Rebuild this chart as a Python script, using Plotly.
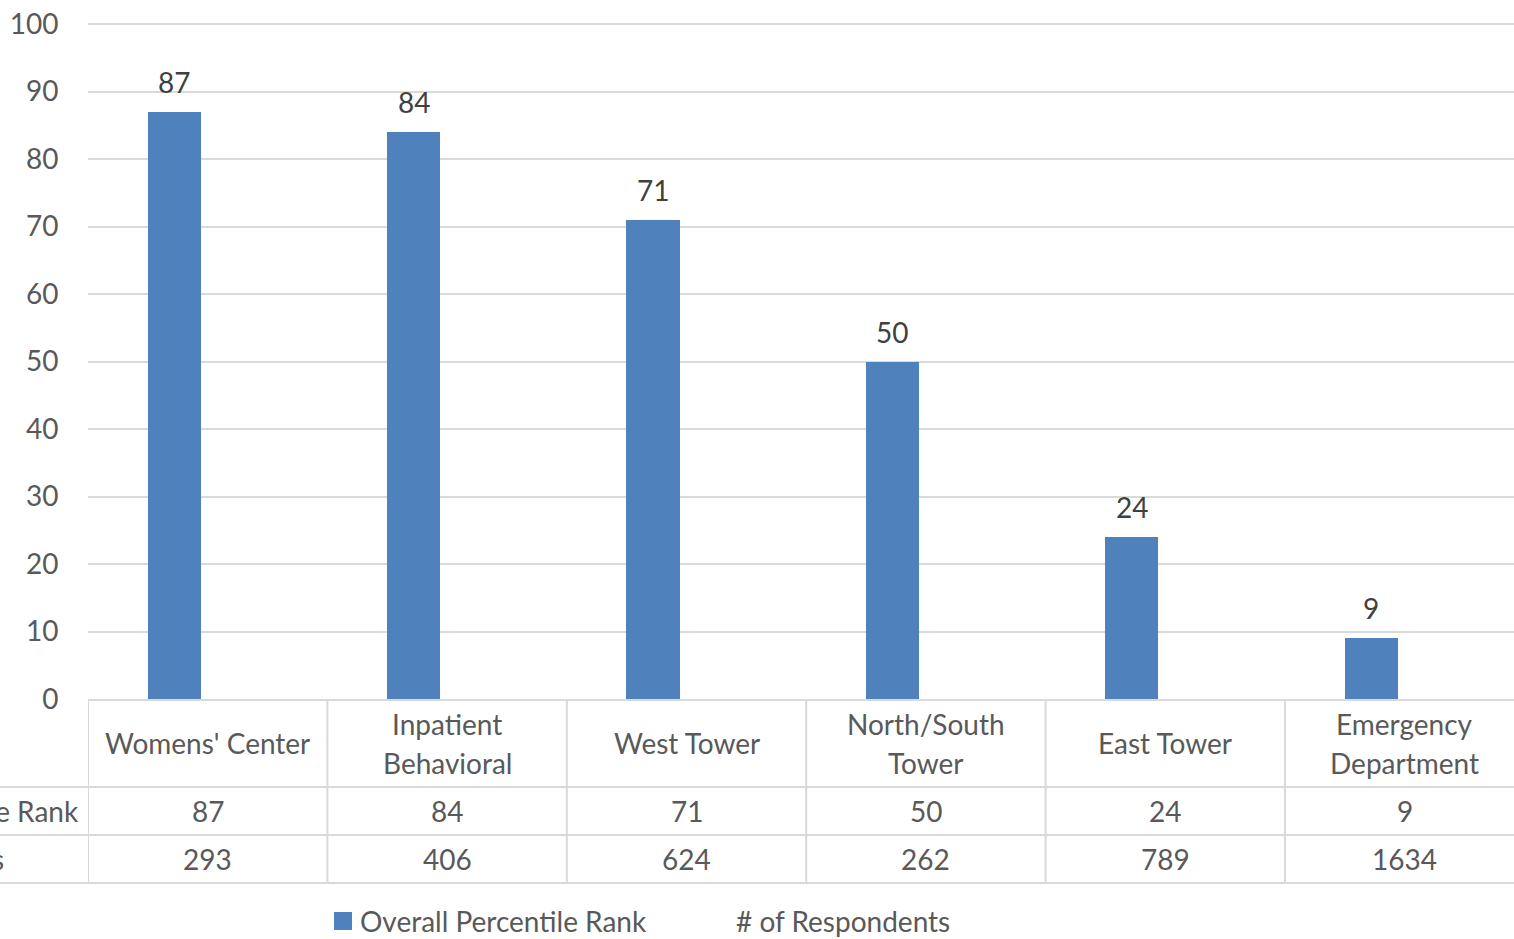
import plotly.graph_objects as go

categories = ["Womens' Center", "Inpatient<br>Behavioral", "West Tower",
              "North/South<br>Tower", "East Tower", "Emergency<br>Department"]
percentile_rank = [87, 84, 71, 50, 24, 9]
respondents = [293, 406, 624, 262, 789, 1634]
row_labels = ["Overall Percentile Rank", "# of Respondents"]
y_ticks = [0, 10, 20, 30, 40, 50, 60, 70, 80, 90, 100]

W, H = 1514, 939
L, T, B = 88, 22, 699
PW, PH = W - L, B - 24
CAT_W = 239.4
FONT = "Lato"
FS = 28
TXT = "#595959"
GRID = "#D9D9D9"
BAR = "#4F81BD"
BAR_W = 0.222
BAR_SHIFT = -0.14  # clustered position of the visible series


def py(p):
    return (B - p) / (B - T)


def px(p):
    return (p - L) / PW


xs = list(range(len(categories)))
x_max = -0.5 + PW / CAT_W
y_max = 100 * (B - T) / PH

fig = go.Figure()
fig.add_trace(go.Bar(
    x=xs, y=percentile_rank, width=BAR_W, offset=BAR_SHIFT - BAR_W / 2,
    marker=dict(color=BAR, line=dict(width=0)),
    name=row_labels[0], showlegend=False, hoverinfo="skip"))

annotations = []
shapes = []

# data labels
for x, v in zip(xs, percentile_rank):
    annotations.append(dict(x=x + BAR_SHIFT, y=v, xref="x", yref="y", text=str(v), showarrow=False,
                            yanchor="bottom", yshift=11,
                            font=dict(family=FONT, size=FS, color="#404040")))

# table: category header lines
for x, c in zip(xs, categories):
    lines = c.split("<br>")
    n = len(lines)
    for k, ln in enumerate(lines):
        cy = 743 + (k - (n - 1) / 2) * 39
        annotations.append(dict(x=x, y=py(cy), xref="x", yref="paper", text=ln,
                                showarrow=False, yanchor="middle",
                                font=dict(family=FONT, size=FS, color=TXT)))

# table rows
row_label_right = [81, 6]
for r, (vals, cy) in enumerate([(percentile_rank, 811), (respondents, 859)]):
    for x, v in zip(xs, vals):
        annotations.append(dict(x=x, y=py(cy), xref="x", yref="paper", text=str(v),
                                showarrow=False, yanchor="middle",
                                font=dict(family=FONT, size=FS, color=TXT)))
    annotations.append(dict(x=px(row_label_right[r]), y=py(cy), xref="paper", yref="paper",
                            text=row_labels[r], showarrow=False, xanchor="right",
                            yanchor="middle", font=dict(family=FONT, size=FS, color=TXT)))

# table grid lines
for i in range(len(categories) + 1):
    shapes.append(dict(type="line", xref="x", yref="paper", x0=i - 0.5, x1=i - 0.5,
                       y0=py(699), y1=py(883), line=dict(color=GRID, width=2)))
for yy in [787, 835, 883]:
    shapes.append(dict(type="line", xref="paper", yref="paper", x0=px(-5), x1=px(W + 5),
                       y0=py(yy), y1=py(yy), line=dict(color=GRID, width=2)))

# legend (manual)
LEG_Y = 921
shapes.append(dict(type="rect", xref="paper", yref="paper", x0=px(334), x1=px(352),
                   y0=py(LEG_Y + 9), y1=py(LEG_Y - 9), fillcolor=BAR, line=dict(width=0)))
annotations.append(dict(x=px(358), y=py(LEG_Y), xref="paper", yref="paper",
                        text=row_labels[0], showarrow=False, xanchor="left", yanchor="middle",
                        font=dict(family=FONT, size=FS, color=TXT)))
annotations.append(dict(x=px(734), y=py(LEG_Y), xref="paper", yref="paper",
                        text=row_labels[1], showarrow=False, xanchor="left", yanchor="middle",
                        font=dict(family=FONT, size=FS, color=TXT)))

fig.update_layout(
    width=W, height=H, margin=dict(l=L, r=0, t=T, b=H - B),
    paper_bgcolor="white", plot_bgcolor="white",
    font=dict(family=FONT, size=FS, color=TXT),
    xaxis=dict(range=[-0.5, x_max], showticklabels=False, showgrid=False, zeroline=False,
               showline=True, linecolor=GRID, linewidth=2, fixedrange=True),
    yaxis=dict(range=[0, y_max], tickvals=y_ticks, showgrid=True, gridcolor=GRID, gridwidth=1.5,
               zeroline=False, showline=False, ticks="outside", ticklen=0,
               ticklabelstandoff=23, tickfont=dict(family=FONT, size=FS, color=TXT),
               fixedrange=True),
    annotations=annotations, shapes=shapes, bargap=0,
)

fig.write_html("out.html")
